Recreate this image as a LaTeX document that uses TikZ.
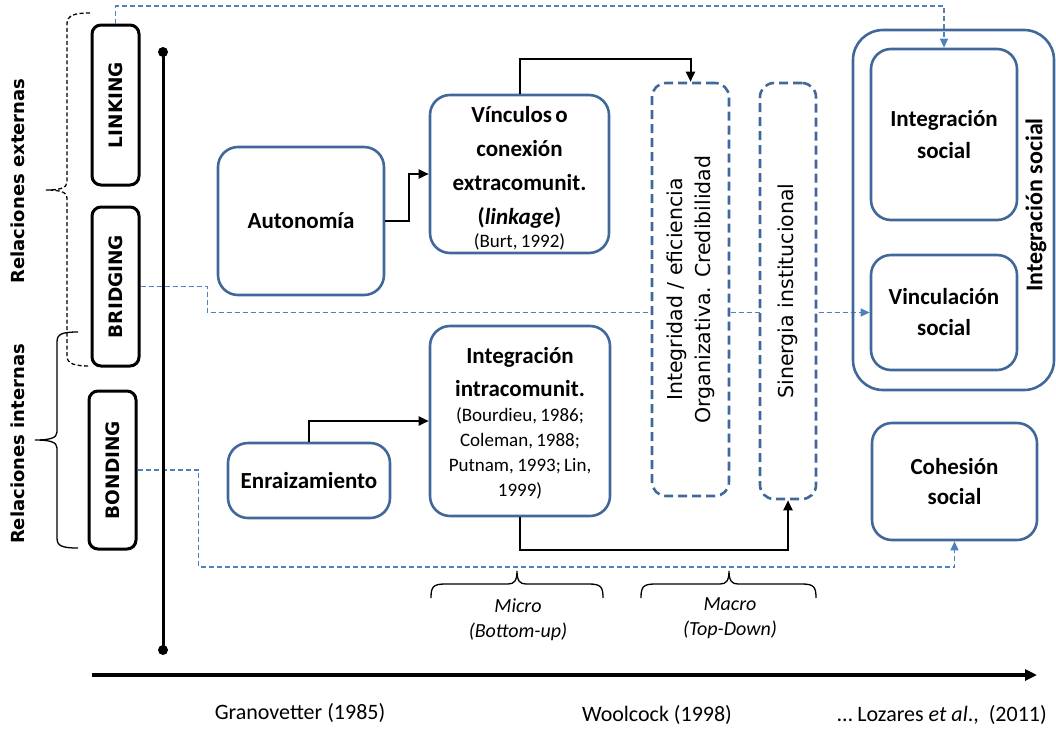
\documentclass[tikz,border=0pt]{standalone}
\usepackage{fontspec}
\setmainfont{Carlito}
\newfontfamily\dvs{DejaVu Sans}
\usetikzlibrary{arrows.meta,calc}

\definecolor{boxblue}{HTML}{41689A}
\definecolor{relblue}{HTML}{4F81BD}

\newcommand\fs[2]{\fontsize{#1}{#2}\selectfont}

\pgfdeclarelayer{under}
\pgfsetlayers{under,main}

\tikzset{
  bluebox/.style={draw=boxblue, line width=2.6pt, rounded corners=20pt, fill=white,
    inner sep=0pt, align=center},
  tagbox/.style={draw=black, line width=3pt, rounded corners=9pt, fill=white, inner sep=0pt},
  dashbox/.style={draw=boxblue, line width=2.6pt, dash pattern=on 9pt off 5pt,
    rounded corners=14pt, fill=white, inner sep=0pt},
  flow/.style={draw=black, line width=2pt, -{Triangle[length=10pt,width=9pt]}},
  relline/.style={draw=relblue, line width=1.4pt, dash pattern=on 5pt off 3pt,
    -{Triangle[length=9pt,width=8pt]}},
  bracepath/.style={draw=black, line width=1.3pt},
  plain/.style={inner sep=0pt, align=center},
}

\begin{document}
\begin{tikzpicture}[x=1pt,y=-1pt]
\useasboundingbox (0,0) rectangle (1056,731);

% ---- side labels and braces
\node[plain, rotate=90, font=\dvs\bfseries\fs{18}{20}] (extlab) at (18,181) {Relaciones externas};
\node[plain, rotate=90, font=\dvs\bfseries\fs{18}{20}] (intlab) at (18,444) {Relaciones internas};

\draw[bracepath, dash pattern=on 4pt off 2.5pt]
  (90,13) .. controls (75,13) and (67,15) .. (67,24) -- (67,182)
  .. controls (67,188) and (60,190) .. (46,190)
  .. controls (60,190) and (67,192) .. (67,198) -- (67,356)
  .. controls (67,364) and (75,366) .. (90,366);
\draw[bracepath]
  (78,332) .. controls (62,332) and (57,334) .. (57,342) -- (57,432)
  .. controls (57,438) and (50,440) .. (35,440)
  .. controls (50,440) and (57,442) .. (57,448) -- (57,538)
  .. controls (57,546) and (62,548) .. (78,548);

% ---- capital type tags
\node[tagbox, minimum width=47pt, minimum height=160pt] (link) at (115.5,105)
  {\rotatebox{90}{\dvs\bfseries\fs{18.5}{20}LINKING}};
\node[tagbox, minimum width=47pt, minimum height=159pt] (bridge) at (115.5,286.5)
  {\rotatebox{90}{\dvs\bfseries\fs{18.5}{20}BRIDGING}};
\node[tagbox, minimum width=47pt, minimum height=158pt] (bond) at (112.5,470)
  {\rotatebox{90}{\dvs\bfseries\fs{18.5}{20}BONDING}};

% ---- timeline
\coordinate (t1) at (163,52);
\coordinate (t2) at (163,650);

% ---- process boxes
\node[bluebox, minimum width=166pt, minimum height=148pt, font=\fs{23}{33}\bfseries]
  (auto) at (301,221) {Autonomía};
\node[bluebox, minimum width=179pt, minimum height=158pt, text width=174pt]
  (vinc) at (519.5,174)
  {\fs{23}{34}\bfseries\rule{0pt}{25pt}Vínculos o\\ conexión\\ extracomunit.\\ (\textit{linkage})\par
   \fs{19}{23}\mdseries (Burt, 1992)\par};
\node[bluebox, minimum width=162pt, minimum height=75pt, font=\fs{23}{33}\bfseries]
  (enr) at (309,480.5) {Enraizamiento};
\node[bluebox, minimum width=180pt, minimum height=190pt, text width=174pt]
  (intra) at (520,421)
  {\fs{23}{33}\bfseries\rule{0pt}{21pt}Integración\\ intracomunit.\par
   \fs{19}{25}\mdseries (Bourdieu, 1986;\\ Coleman, 1988;\\ Putnam, 1993; Lin,\\ 1999)\par};

\node[dashbox, minimum width=77pt, minimum height=413pt] (dash1) at (690.5,289.5)
  {\rotatebox{90}{\dvs\fs{20.5}{28}\begin{tabular}{@{}c@{}}Integridad / eficiencia\\
   Organizativa. Credibilidad\end{tabular}}};
\node[dashbox, minimum width=56pt, minimum height=416pt] (dash2) at (788,291)
  {\rotatebox{90}{\dvs\fs{20.5}{28}Sinergia institucional}};

% ---- outcome boxes
\node[bluebox, fill=none, rounded corners=30pt, minimum width=201pt, minimum height=360pt]
  (outer) at (953.5,210) {};
\node[bluebox, minimum width=146pt, minimum height=171pt, font=\fs{23}{32}\bfseries]
  (intg) at (944,134.5) {Integración\\ social};
\node[bluebox, minimum width=146pt, minimum height=115pt, font=\fs{23}{31}\bfseries]
  (vincul) at (944,312.5) {Vinculación\\ social};
\node[plain, font=\fs{24}{26}\bfseries] (outlab) at (1036,205)
  {\rotatebox{90}{Integración social}};
\node[bluebox, minimum width=165pt, minimum height=117pt, font=\fs{23}{30}\bfseries]
  (cohes) at (954.5,481.5) {Cohesión\\ social};

% ---- connectors (beneath the boxes)
\coordinate (ytop) at (0,6);
\begin{pgfonlayer}{under}
  \draw[relline] (bridge.east) -- ++(67,0) |- (vincul.west);
  \draw[relline] (bond.east) -- ++(61,0) -- ++(0,97) -| (cohes.south);
  \draw[line width=3pt] (t1) -- (t2);
  \fill (t1) circle (5pt);
  \fill (t2) circle (5pt);
\end{pgfonlayer}
\draw[relline] (link.north) -- (link.north |- ytop) -| (intg.north);

\draw[flow] (auto.east) -- ++(24,0) |- (vinc.west);
\draw[flow] (vinc.north) -- ++(0,-35) -| (dash1.north);
\draw[flow] (enr.north) |- (intra.west);
\draw[flow] (intra.south) -- ++(0,33) -| (dash2.south);

% ---- micro / macro braces
\draw[bracepath]
  (431,598) .. controls (431,587) and (433,584) .. (445,584) -- (508,584)
  .. controls (514,584) and (517,581) .. (517,571)
  .. controls (517,581) and (520,584) .. (526,584) -- (589,584)
  .. controls (601,584) and (603,587) .. (603,598);
\draw[bracepath]
  (641,598) .. controls (641,587) and (643,584) .. (655,584) -- (720,584)
  .. controls (726,584) and (729,581) .. (729,571)
  .. controls (729,581) and (732,584) .. (738,584) -- (802,584)
  .. controls (814,584) and (816,587) .. (816,598);
\node[plain, font=\fs{20}{25}\itshape] (micro) at (518,620) {Micro\\ (Bottom-up)};
\node[plain, font=\fs{20}{25}\itshape] (macro) at (730,618) {Macro\\ (Top-Down)};

% ---- time axis
\coordinate (a1) at (92,675);
\coordinate (a2) at (1037,675);
\draw[line width=3.5pt, -{Triangle[length=12pt,width=11pt]}] (a1) -- (a2);
\node[plain, font=\fs{22}{24}] (gran) at (300,713) {Granovetter (1985)};
\node[plain, font=\fs{22}{24}] (wool) at (657,715) {Woolcock (1998)};
\node[plain, font=\fs{22}{24}] (loz) at (942,715) {… Lozares \textit{et al}.,\ \ (2011)};
\end{tikzpicture}
\end{document}
